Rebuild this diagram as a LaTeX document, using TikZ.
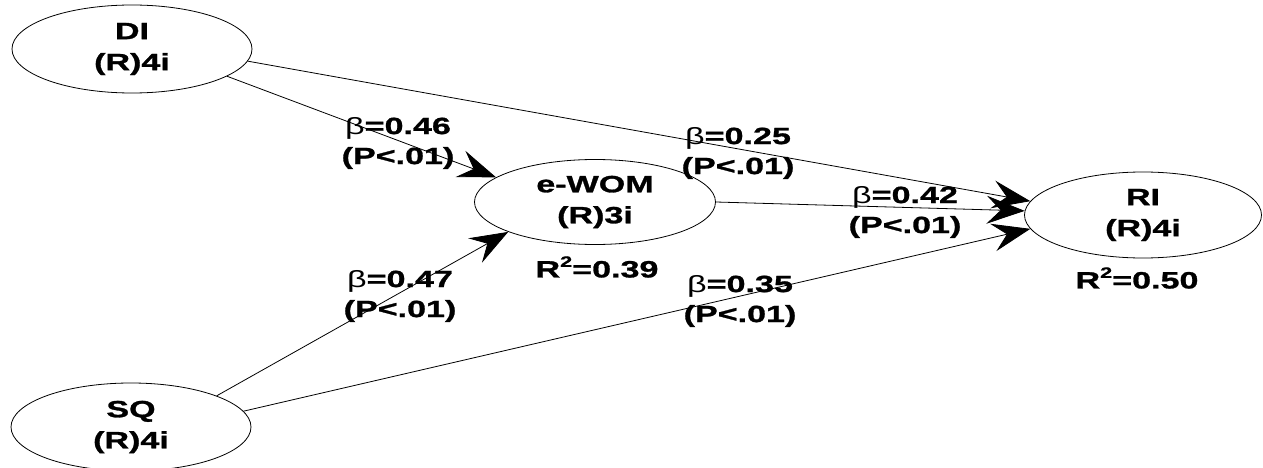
\documentclass[tikz,border=0pt]{standalone}
\usepackage{fontspec}
\setmainfont{Liberation Sans}[FakeStretch=1.45,BoldFeatures={FakeBold=1.2}]
\usetikzlibrary{shapes.geometric,arrows.meta}
\newcommand{\sqtwo}{\raisebox{0.45em}{\fontsize{15}{15}\selectfont 2}}
\newcommand{\thinbeta}{{\mdseries β}}
\begin{document}
\begin{tikzpicture}[x=1pt,y=-1pt,
  lv/.style={ellipse,draw,line width=0.8pt,minimum width=240pt,minimum height=88pt,inner sep=0pt,align=center,font=\bfseries\fontsize{23.5}{31}\selectfont},
  conn/.style={line width=0.8pt,-{Stealth[length=38pt,width=28pt,inset=14pt]}},
  lab/.style={align=center,inner sep=0pt,font=\bfseries\fontsize{23.5}{30}\selectfont}]
\useasboundingbox[fill=white] (0,0) rectangle (1263,468);
\node[lv] (DI) at (132,49) {DI\\(R)4i};
\node[lv] (SQ) at (131,427) {SQ\\(R)4i};
\node[lv,minimum width=241pt,minimum height=85pt] (EW) at (595,202) {e-WOM\\(R)3i};
\node[lv,minimum width=237pt,minimum height=86pt] (RI) at (1143,215) {RI\\(R)4i};
\draw[conn] (DI.-16) -- (EW.166);
\draw[conn] (DI.-6) -- (RI.173);
\draw[conn] (EW.0) -- (RI.178);
\draw[conn] (SQ.20) -- (EW.-161);
\draw[conn] (SQ.8) -- (RI.187);
\node[lab] (L1) at (398,143) {\thinbeta=0.46\\(P<.01)};
\node[lab] (L2) at (738,153) {\thinbeta=0.25\\(P<.01)};
\node[lab] (L3) at (905,212) {\thinbeta=0.42\\(P<.01)};
\node[lab] (L4) at (400,296) {\thinbeta=0.47\\(P<.01)};
\node[lab] (L5) at (740,301) {\thinbeta=0.35\\(P<.01)};
\node[lab] (R1) at (597,267) {R\sqtwo=0.39};
\node[lab] (R2) at (1137,278) {R\sqtwo=0.50};
\end{tikzpicture}
\end{document}
